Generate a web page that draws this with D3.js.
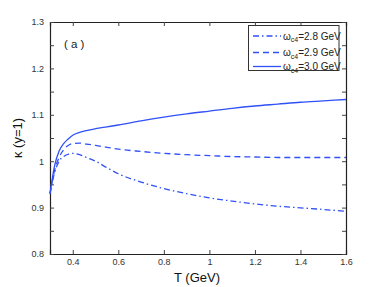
<!DOCTYPE html>
<html><head><meta charset="utf-8">
<script src="https://cdn.jsdelivr.net/npm/d3@7"></script>
<style>body{margin:0;background:#fff}svg{display:block}text{font-family:"Liberation Sans",Arial,sans-serif}</style>
</head><body><svg id="c" width="382" height="287"></svg>
<script>
const T = [0.3,0.32,0.34,0.36,0.38,0.4,0.43,0.46,0.5,0.55,0.6,0.7,0.8,0.9,1.0,1.1,1.2,1.3,1.4,1.5,1.6];
const k28 = [0.93,0.975,1.0,1.010,1.015,1.017,1.014,1.008,1.0,0.986,0.973,0.955,0.941,0.930,0.921,0.914,0.908,0.903,0.8995,0.896,0.892];
const k29 = [0.93,0.98,1.008,1.025,1.034,1.038,1.039,1.037,1.034,1.030,1.026,1.021,1.017,1.014,1.012,1.010,1.009,1.008,1.008,1.008,1.008];
const k30 = [0.93,0.99,1.022,1.038,1.048,1.056,1.062,1.066,1.070,1.074,1.078,1.087,1.095,1.102,1.108,1.114,1.119,1.123,1.127,1.130,1.133];
const seriesNames = ["2.8 GeV","2.9 GeV","3.0 GeV"];
const xTicks = [0.4,0.6,0.8,1,1.2,1.4,1.6];
const yTicks = [0.8,0.9,1,1.1,1.2,1.3];
const yMinor = [0.85,0.95,1.05,1.15,1.25];

const svg = d3.select("#c");
const L=50,R=346,Tp=22,B=254;
const x = d3.scaleLinear().domain([0.3,1.6]).range([L,R]);
const y = d3.scaleLinear().domain([0.8,1.3]).range([B,Tp]);
const blue = "#3050f8";
const fmt = d => (d===1?"1":d3.format(".1f")(d));

const ax = (g,axis)=>{g.call(axis);g.select(".domain").attr("stroke","#222");g.selectAll(".tick line").attr("stroke","#444");g.selectAll("text").attr("fill","#333").style("font-size","9px");};
svg.append("g").attr("transform",`translate(0,${B})`).call(g=>ax(g,d3.axisBottom(x).tickValues(xTicks).tickSize(-4).tickPadding(5).tickFormat(fmt)));
svg.append("g").attr("transform",`translate(0,${Tp})`).call(g=>ax(g,d3.axisTop(x).tickValues(xTicks).tickSize(-4).tickFormat("")));
svg.append("g").attr("transform",`translate(${L},0)`).call(g=>ax(g,d3.axisLeft(y).tickValues(yTicks.concat(yMinor)).tickSize(-4).tickPadding(6).tickFormat(d=>yTicks.includes(d)?fmt(d):"")));
svg.append("g").attr("transform",`translate(${R},0)`).call(g=>ax(g,d3.axisRight(y).tickValues(yTicks.concat(yMinor)).tickSize(-4).tickFormat("")));
svg.selectAll(".domain").attr("stroke-width",1.2);

const dashes = ["6,3,1.5,3","6,4",null];
const data = [k28,k29,k30];
const line = d3.line().x((d,i)=>x(T[i])).y(d=>y(d)).curve(d3.curveMonotoneX);
data.forEach((s,j)=>{
  svg.append("path").datum(s).attr("d",line).attr("fill","none").attr("stroke",blue).attr("stroke-width",1.3).attr("stroke-dasharray",dashes[j]);
});

const lg = svg.append("g");
lg.append("rect").attr("x",248.5).attr("y",25.5).attr("width",90.5).attr("height",45).attr("fill","#fff").attr("stroke","#333").attr("stroke-width",1);
const rows=[36,52.5,66.5];
seriesNames.forEach((n,j)=>{
  lg.append("line").attr("x1",253).attr("x2",281).attr("y1",rows[j]).attr("y2",rows[j]).attr("stroke",blue).attr("stroke-width",1.3).attr("stroke-dasharray",dashes[j]);
  const t = lg.append("text").attr("x",283).attr("y",rows[j]+3.5).attr("fill","#222").style("font-size","10px");
  t.append("tspan").text("ω");
  t.append("tspan").attr("dy",2.5).style("font-size","7px").text("c4");
  t.append("tspan").attr("dy",-2.5).text("="+n);
});

svg.append("text").attr("x",64).attr("y",48).attr("fill","#222").style("font-size","11.5px").text("( a )");
svg.append("text").attr("x",197).attr("y",282).attr("text-anchor","middle").attr("fill","#111").style("font-size","13px").text("T (GeV)");
svg.append("text").attr("transform","translate(22,138) rotate(-90)").attr("text-anchor","middle").attr("fill","#111").style("font-size","13px").text("κ (y=1)");
</script></body></html>
